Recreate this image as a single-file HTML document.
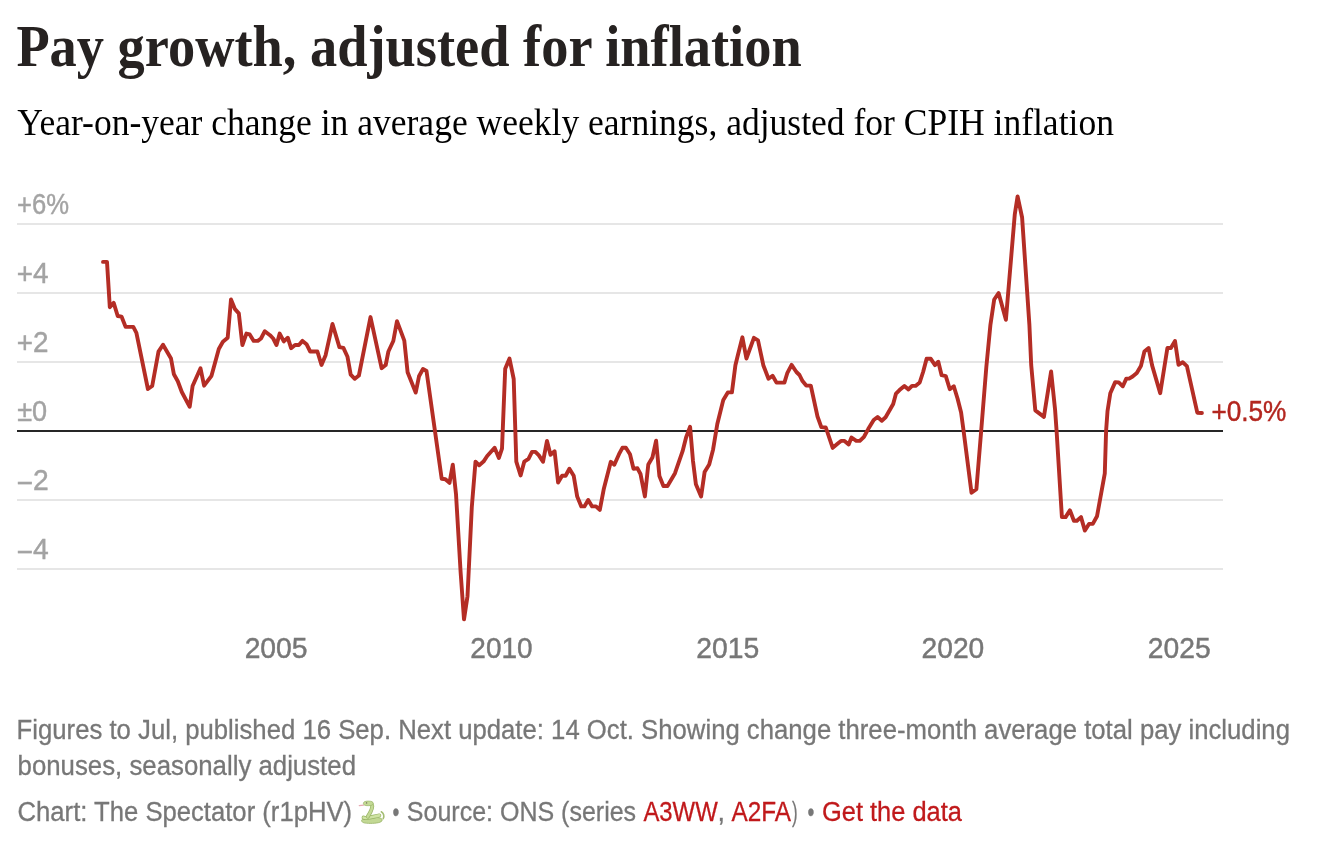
<!DOCTYPE html>
<html><head><meta charset="utf-8">
<style>
html,body{margin:0;padding:0;background:#fff;}
body{width:1330px;height:862px;overflow:hidden;position:relative;}
svg{position:absolute;left:0;top:0;will-change:transform;}
</style></head><body>
<svg width="1330" height="862" viewBox="0 0 1330 862">
<line x1="17" y1="224" x2="1223" y2="224" stroke="#dedede" stroke-width="1.4"/>
<line x1="17" y1="293" x2="1223" y2="293" stroke="#dedede" stroke-width="1.4"/>
<line x1="17" y1="362" x2="1223" y2="362" stroke="#dedede" stroke-width="1.4"/>
<line x1="17" y1="500" x2="1223" y2="500" stroke="#dedede" stroke-width="1.4"/>
<line x1="17" y1="569" x2="1223" y2="569" stroke="#dedede" stroke-width="1.4"/>
<line x1="17" y1="431" x2="1223" y2="431" stroke="#262626" stroke-width="2.2"/>
<path d="M103.0 261.9 L107.0 261.9 L109.8 307.2 L113.7 302.9 L117.7 316.0 L121.6 316.7 L125.6 326.9 L133.3 326.9 L136.4 332.8 L147.9 389.0 L152.2 386.0 L158.5 351.6 L163.0 344.7 L171.0 358.5 L173.9 374.3 L177.8 381.2 L181.8 392.0 L189.7 406.8 L192.6 386.0 L200.5 368.3 L204.1 385.7 L211.5 375.8 L218.8 349.0 L222.9 341.7 L227.7 337.7 L231.0 299.5 L235.0 309.2 L238.8 313.3 L242.4 345.0 L246.4 333.6 L249.7 334.4 L253.7 340.9 L257.8 340.9 L261.0 338.5 L264.8 331.2 L270.0 335.2 L273.2 338.5 L276.5 345.0 L279.7 333.6 L283.8 341.4 L287.8 337.7 L291.1 348.2 L295.1 345.0 L298.9 345.0 L302.5 340.9 L306.5 344.2 L310.2 351.5 L317.4 351.5 L321.5 365.0 L325.6 355.2 L332.5 324.0 L339.4 347.1 L343.4 347.9 L347.5 356.8 L350.7 374.7 L354.8 378.8 L358.9 375.5 L370.5 317.1 L381.6 368.2 L385.7 365.0 L388.4 351.5 L393.3 341.0 L397.0 321.1 L404.3 340.6 L407.6 372.3 L415.7 392.6 L419.0 376.3 L423.0 369.0 L426.5 371.0 L441.7 478.8 L445.4 479.2 L449.5 482.9 L452.8 464.7 L456.0 494.0 L460.6 572.0 L464.0 619.4 L467.5 596.2 L471.8 507.1 L475.5 461.6 L479.2 465.3 L483.5 461.6 L487.2 456.0 L494.6 447.7 L498.9 457.9 L502.0 448.6 L505.2 368.8 L509.5 358.6 L513.7 379.0 L516.3 461.6 L520.6 475.5 L524.3 461.6 L528.5 458.9 L532.0 451.9 L535.4 451.9 L538.9 455.4 L543.0 461.8 L547.0 440.9 L550.5 454.8 L554.6 451.3 L558.1 482.6 L562.1 475.7 L565.6 475.7 L569.4 468.7 L573.7 475.7 L577.2 496.6 L581.3 506.4 L584.4 506.4 L588.2 500.0 L592.1 506.4 L596.0 506.4 L599.8 509.9 L603.9 488.4 L610.8 461.8 L614.3 464.7 L619.0 454.2 L622.4 447.8 L625.9 447.8 L630.0 454.2 L633.5 468.7 L637.5 468.3 L640.5 474.0 L644.9 496.4 L648.3 464.5 L652.4 457.6 L656.1 440.7 L659.4 476.1 L663.4 486.0 L667.5 486.0 L675.0 473.2 L682.6 451.2 L686.0 437.8 L690.1 426.8 L693.0 461.0 L695.9 484.2 L701.1 496.4 L704.6 472.1 L709.2 464.5 L713.1 449.4 L717.3 424.0 L723.3 399.9 L727.8 392.4 L731.9 392.4 L735.4 365.2 L737.6 356.2 L742.4 337.3 L746.4 358.5 L753.9 337.8 L758.0 340.4 L763.3 365.2 L768.5 378.8 L772.6 375.8 L776.5 382.6 L784.4 382.6 L787.4 372.8 L791.6 364.9 L796.4 372.0 L799.5 375.0 L802.5 381.1 L806.2 385.6 L810.8 385.6 L817.5 416.5 L821.3 427.1 L825.8 427.5 L832.7 447.9 L837.5 443.7 L841.0 440.9 L844.5 440.9 L848.7 444.4 L851.5 437.5 L856.3 440.9 L859.8 440.9 L864.0 436.8 L868.2 429.1 L873.7 420.0 L877.6 417.0 L881.8 420.7 L885.6 417.3 L893.2 404.0 L896.0 393.6 L899.5 390.1 L904.4 385.9 L908.5 389.4 L912.0 385.9 L915.5 385.9 L919.7 382.5 L923.1 372.0 L926.6 358.8 L930.8 358.8 L935.0 365.1 L938.3 361.7 L941.6 375.2 L945.8 376.1 L949.8 389.2 L953.8 386.2 L957.6 398.7 L961.1 412.6 L963.7 431.8 L971.5 492.7 L976.4 489.2 L981.1 431.8 L986.3 367.4 L990.4 325.0 L994.2 299.5 L998.6 293.0 L1005.9 319.8 L1014.8 214.2 L1017.6 196.4 L1022.1 217.5 L1029.4 325.0 L1031.2 365.0 L1035.3 410.4 L1043.9 416.9 L1051.1 371.5 L1055.1 410.0 L1056.6 431.1 L1061.9 517.1 L1065.6 517.1 L1069.9 510.3 L1073.9 520.8 L1076.9 520.8 L1081.0 517.1 L1084.9 530.6 L1089.0 523.9 L1092.8 523.9 L1097.0 516.3 L1104.8 473.3 L1106.1 430.8 L1107.5 411.3 L1110.3 393.2 L1115.2 382.1 L1118.7 382.4 L1122.8 386.3 L1126.3 378.6 L1129.1 378.6 L1132.6 376.5 L1136.8 373.0 L1140.9 366.1 L1144.4 351.5 L1148.6 348.0 L1152.1 365.4 L1160.2 393.2 L1167.4 348.0 L1170.9 348.0 L1175.0 341.0 L1178.5 364.7 L1182.7 362.3 L1186.9 366.1 L1197.3 412.7 L1201.9 413.0" fill="none" stroke="#b42d25" stroke-width="3.9" stroke-linejoin="round" stroke-linecap="round"/>
<text x="16.39" y="66.4" style="font-family:&quot;Liberation Serif&quot;,serif;font-weight:bold;font-size:60px" fill="#262221" stroke="none" textLength="785.27" lengthAdjust="spacingAndGlyphs">Pay growth, adjusted for inflation</text>
<text x="17.30" y="134.8" style="font-family:&quot;Liberation Serif&quot;,serif;font-size:37.5px" fill="#000" stroke="none" textLength="1096.62" lengthAdjust="spacingAndGlyphs">Year-on-year change in average weekly earnings, adjusted for CPIH inflation</text>
<text x="16.60" y="739" style="font-family:&quot;Liberation Sans&quot;,Arial,sans-serif;font-size:27px;stroke-width:0.3px" fill="#777" stroke="#777" textLength="1273.38" lengthAdjust="spacingAndGlyphs">Figures to Jul, published 16 Sep. Next update: 14 Oct. Showing change three-month average total pay including</text>
<text x="17.54" y="775" style="font-family:&quot;Liberation Sans&quot;,Arial,sans-serif;font-size:27px;stroke-width:0.3px" fill="#777" stroke="#777" textLength="338.45" lengthAdjust="spacingAndGlyphs">bonuses, seasonally adjusted</text>
<text x="17.55" y="821" style="font-family:&quot;Liberation Sans&quot;,Arial,sans-serif;font-size:27px;stroke-width:0.3px" fill="#777" stroke="#777" textLength="334.55" lengthAdjust="spacingAndGlyphs">Chart: The Spectator (r1pHV)</text>
<text x="392.48" y="821" style="font-family:&quot;Liberation Sans&quot;,Arial,sans-serif;font-size:27px;stroke-width:0.3px" fill="#777" stroke="#777" textLength="6.85" lengthAdjust="spacingAndGlyphs">•</text>
<text x="406.87" y="821" style="font-family:&quot;Liberation Sans&quot;,Arial,sans-serif;font-size:27px;stroke-width:0.3px" fill="#777" stroke="#777" textLength="229.26" lengthAdjust="spacingAndGlyphs">Source: ONS (series</text>
<text x="643.40" y="821" style="font-family:&quot;Liberation Sans&quot;,Arial,sans-serif;font-size:27px;stroke-width:0.3px" fill="#c0191b" stroke="#c0191b" textLength="74.30" lengthAdjust="spacingAndGlyphs">A3WW</text>
<text x="717.50" y="821" style="font-family:&quot;Liberation Sans&quot;,Arial,sans-serif;font-size:27px;stroke-width:0.3px" fill="#777" stroke="#777" textLength="7.52" lengthAdjust="spacingAndGlyphs">,</text>
<text x="731.40" y="821" style="font-family:&quot;Liberation Sans&quot;,Arial,sans-serif;font-size:27px;stroke-width:0.3px" fill="#c0191b" stroke="#c0191b" textLength="59.54" lengthAdjust="spacingAndGlyphs">A2FA</text>
<text x="792.00" y="821" style="font-family:&quot;Liberation Sans&quot;,Arial,sans-serif;font-size:27px;stroke-width:0.3px" fill="#777" stroke="#777" textLength="5.62" lengthAdjust="spacingAndGlyphs">)</text>
<text x="807.48" y="821" style="font-family:&quot;Liberation Sans&quot;,Arial,sans-serif;font-size:27px;stroke-width:0.3px" fill="#777" stroke="#777" textLength="6.85" lengthAdjust="spacingAndGlyphs">•</text>
<text x="821.96" y="821" style="font-family:&quot;Liberation Sans&quot;,Arial,sans-serif;font-size:27px;stroke-width:0.3px" fill="#c0191b" stroke="#c0191b" textLength="139.97" lengthAdjust="spacingAndGlyphs">Get the data</text>
<text x="16.93" y="214" style="font-family:&quot;Liberation Sans&quot;,Arial,sans-serif;font-size:29.5px;stroke-width:0.45px" fill="#a3a3a3" stroke="#a3a3a3" textLength="52.03" lengthAdjust="spacingAndGlyphs"><tspan dy="1.3">+</tspan><tspan dy="-1.3">6%</tspan></text>
<text x="16.86" y="283" style="font-family:&quot;Liberation Sans&quot;,Arial,sans-serif;font-size:29.5px;stroke-width:0.45px" fill="#a3a3a3" stroke="#a3a3a3" textLength="31.75" lengthAdjust="spacingAndGlyphs"><tspan dy="1.3">+</tspan><tspan dy="-1.3">4</tspan></text>
<text x="16.86" y="352" style="font-family:&quot;Liberation Sans&quot;,Arial,sans-serif;font-size:29.5px;stroke-width:0.45px" fill="#a3a3a3" stroke="#a3a3a3" textLength="31.75" lengthAdjust="spacingAndGlyphs"><tspan dy="1.3">+</tspan><tspan dy="-1.3">2</tspan></text>
<text x="17.18" y="421" style="font-family:&quot;Liberation Sans&quot;,Arial,sans-serif;font-size:29.5px;stroke-width:0.45px" fill="#a3a3a3" stroke="#a3a3a3" textLength="29.98" lengthAdjust="spacingAndGlyphs">±0</text>
<text x="16.44" y="490" style="font-family:&quot;Liberation Sans&quot;,Arial,sans-serif;font-size:29.5px;stroke-width:0.45px" fill="#a3a3a3" stroke="#a3a3a3" textLength="32.17" lengthAdjust="spacingAndGlyphs"><tspan dy="2.7">−</tspan><tspan dy="-2.7">2</tspan></text>
<text x="16.44" y="559" style="font-family:&quot;Liberation Sans&quot;,Arial,sans-serif;font-size:29.5px;stroke-width:0.45px" fill="#a3a3a3" stroke="#a3a3a3" textLength="32.17" lengthAdjust="spacingAndGlyphs"><tspan dy="2.7">−</tspan><tspan dy="-2.7">4</tspan></text>
<text x="244.64" y="658" style="font-family:&quot;Liberation Sans&quot;,Arial,sans-serif;font-size:29.5px;stroke-width:0.45px" fill="#777" stroke="#777" textLength="62.97" lengthAdjust="spacingAndGlyphs">2005</text>
<text x="470.35" y="658" style="font-family:&quot;Liberation Sans&quot;,Arial,sans-serif;font-size:29.5px;stroke-width:0.45px" fill="#777" stroke="#777" textLength="62.26" lengthAdjust="spacingAndGlyphs">2010</text>
<text x="696.34" y="658" style="font-family:&quot;Liberation Sans&quot;,Arial,sans-serif;font-size:29.5px;stroke-width:0.45px" fill="#777" stroke="#777" textLength="62.97" lengthAdjust="spacingAndGlyphs">2015</text>
<text x="921.54" y="658" style="font-family:&quot;Liberation Sans&quot;,Arial,sans-serif;font-size:29.5px;stroke-width:0.45px" fill="#777" stroke="#777" textLength="62.77" lengthAdjust="spacingAndGlyphs">2020</text>
<text x="1147.84" y="658" style="font-family:&quot;Liberation Sans&quot;,Arial,sans-serif;font-size:29.5px;stroke-width:0.45px" fill="#777" stroke="#777" textLength="62.87" lengthAdjust="spacingAndGlyphs">2025</text>
<text x="1211.41" y="421" style="font-family:&quot;Liberation Sans&quot;,Arial,sans-serif;font-size:29.5px;stroke-width:0.45px" fill="#b3261f" stroke="#b3261f" textLength="75.00" lengthAdjust="spacingAndGlyphs"><tspan dy="1.3">+</tspan><tspan dy="-1.3">0.5%</tspan></text>
<g transform="translate(355,798)">
<path d="M4.2 7.6 L8.6 7.1" stroke="#e6aab4" stroke-width="1.1" stroke-linecap="round"/>
<path d="M6.6 22.6 C6.6 20.2 12 20.4 17 19.8 C22 19.2 27.2 19.4 27.2 22 C27.2 24.6 21 25.4 15.5 25.4 C10 25.4 6.6 24.8 6.6 22.6 Z" fill="#c2d894" stroke="#98b466" stroke-width="0.8"/>
<path d="M8.6 19.6 C12 21.2 19 18.4 24.3 17.4" fill="none" stroke="#98b466" stroke-width="4" stroke-linecap="round"/>
<path d="M8.6 19.6 C12 21.2 19 18.4 24.3 17.4" fill="none" stroke="#cfe3a3" stroke-width="2.6" stroke-linecap="round"/>
<path d="M26.3 13.8 C28.6 15 29.6 18 28.2 20.6" fill="none" stroke="#a3bd72" stroke-width="1.6" stroke-linecap="round"/>
<path d="M16.6 6 C18.2 8.4 16.4 13 12.8 18.6" fill="none" stroke="#98b466" stroke-width="4" stroke-linecap="round"/>
<path d="M16.6 6 C18.2 8.4 16.4 13 12.8 18.6" fill="none" stroke="#c4da96" stroke-width="2.6" stroke-linecap="round"/>
<ellipse cx="13.3" cy="5.4" rx="4.9" ry="2.3" fill="#c4da96" stroke="#98b466" stroke-width="0.7"/>
<circle cx="11.6" cy="4.9" r="0.7" fill="#6b5a55"/>
</g>
</svg>
</body></html>
